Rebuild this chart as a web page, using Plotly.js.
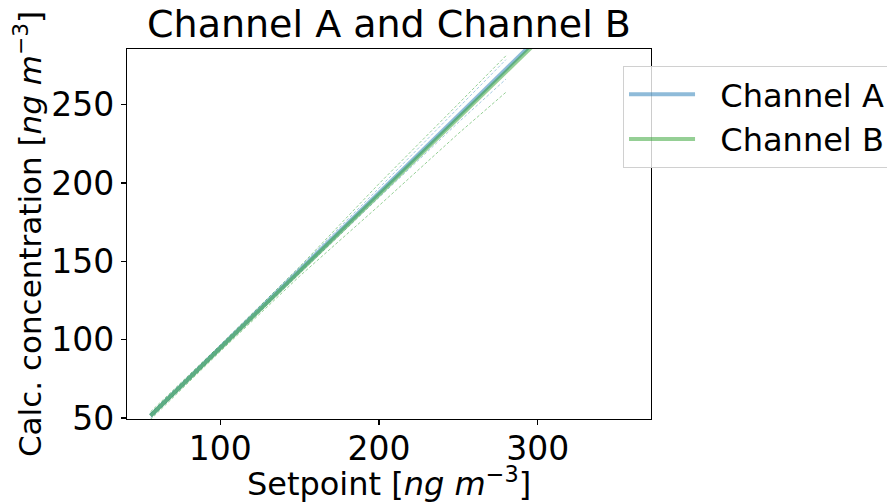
<!DOCTYPE html>
<html>
<head>
<meta charset="utf-8">
<script src="https://cdn.plot.ly/plotly-3.0.1.min.js"></script>
<style>html,body{margin:0;padding:0;background:#fff;}#chart{width:887px;height:503px;}</style>
</head>
<body>
<div id="chart"></div>
<script>
// Main fitted lines
const setpointMain = [56, 100, 150, 200, 250, 300, 356];
const channelA = [51.5, 95.0, 144.4, 193.8, 243.2, 292.6, 347.9];
const channelB = [51.5, 94.6, 143.6, 192.6, 241.6, 290.6, 345.5];
// Confidence bands (dashed)
const setpointBand = [56, 100, 150, 200, 250, 280];
const channelAUpper = [53.0, 96.5, 146.4, 196.8, 247.7, 278.8];
const channelALower = [50.0, 93.5, 142.4, 190.8, 238.7, 266.4];
const channelBUpper = [54.0, 96.6, 146.6, 199.6, 250.6, 281.3];
const channelBLower = [49.0, 92.6, 140.6, 185.6, 231.6, 258.0];
const xTicks = [100, 200, 300];
const yTicks = [50, 100, 150, 200, 250];

const blue = 'rgba(31,119,180,0.5)';
const green = 'rgba(44,160,44,0.5)';
const blueDash = 'rgba(31,119,180,0.4)';
const greenDash = 'rgba(44,160,44,0.5)';

const traces = [
  {x: setpointBand, y: channelAUpper, mode: 'lines', line: {color: blueDash, width: 1, dash: '3px,2px'}, showlegend: false, hoverinfo: 'skip'},
  {x: setpointBand, y: channelALower, mode: 'lines', line: {color: blueDash, width: 1, dash: '3px,2px'}, showlegend: false, hoverinfo: 'skip'},
  {x: setpointMain, y: channelA, mode: 'lines', name: '\u00a0\u00a0Channel A', line: {color: blue, width: 4}},
  {x: setpointBand, y: channelBUpper, mode: 'lines', line: {color: greenDash, width: 1, dash: '3px,2px'}, showlegend: false, hoverinfo: 'skip'},
  {x: setpointBand, y: channelBLower, mode: 'lines', line: {color: greenDash, width: 1, dash: '3px,2px'}, showlegend: false, hoverinfo: 'skip'},
  {x: setpointMain, y: channelB, mode: 'lines', name: '\u00a0\u00a0Channel B', line: {color: green, width: 4}}
];

const font = {family: 'DejaVu Sans, sans-serif', color: '#000'};
const layout = {
  width: 887, height: 503,
  margin: {l: 126.5, r: 235.5, t: 49.3, b: 84, autoexpand: false},
  paper_bgcolor: '#fff', plot_bgcolor: '#fff',
  font: Object.assign({size: 32}, font),
  title: {text: 'Channel A and Channel B', font: Object.assign({size: 38}, font), x: 0.5, xref: 'paper', xanchor: 'center', y: 0.952, yanchor: 'middle', yref: 'container'},
  xaxis: {
    range: [41.2, 371.4], tickvals: xTicks, ticktext: xTicks.map(String),
    showgrid: false, zeroline: false, showline: true, mirror: true, linecolor: '#000', linewidth: 1.2,
    ticks: 'outside', ticklen: 5, tickwidth: 1.2, tickcolor: '#000', tickfont: Object.assign({size: 33}, font),
    ticklabelstandoff: -5,
    title: {text: 'Setpoint [<i>ng m</i><sup>−3</sup>]', font: Object.assign({size: 32}, font), standoff: 9}
  },
  yaxis: {
    range: [49.4, 285.6], tickvals: yTicks, ticktext: yTicks.map(String),
    showgrid: false, zeroline: false, showline: true, mirror: true, linecolor: '#000', linewidth: 1.2,
    ticks: 'outside', ticklen: 5, tickwidth: 1.2, tickcolor: '#000', tickfont: Object.assign({size: 33}, font),
    title: {text: 'Calc. concentration [<i>ng m</i><sup>−3</sup>]', font: Object.assign({size: 31}, font), standoff: 0}
  },
  legend: {
    x: 0.7024, y: 0.8688, xanchor: 'left', yanchor: 'top', xref: 'container', yref: 'container',
    bgcolor: 'rgba(255,255,255,0.8)', bordercolor: '#d0d0d0', borderwidth: 1,
    font: Object.assign({size: 32}, font), itemwidth: 66, tracegroupgap: 0
  },
  showlegend: true
};

Plotly.newPlot('chart', traces, layout, {displayModeBar: false, staticPlot: true});
</script>
</body>
</html>
